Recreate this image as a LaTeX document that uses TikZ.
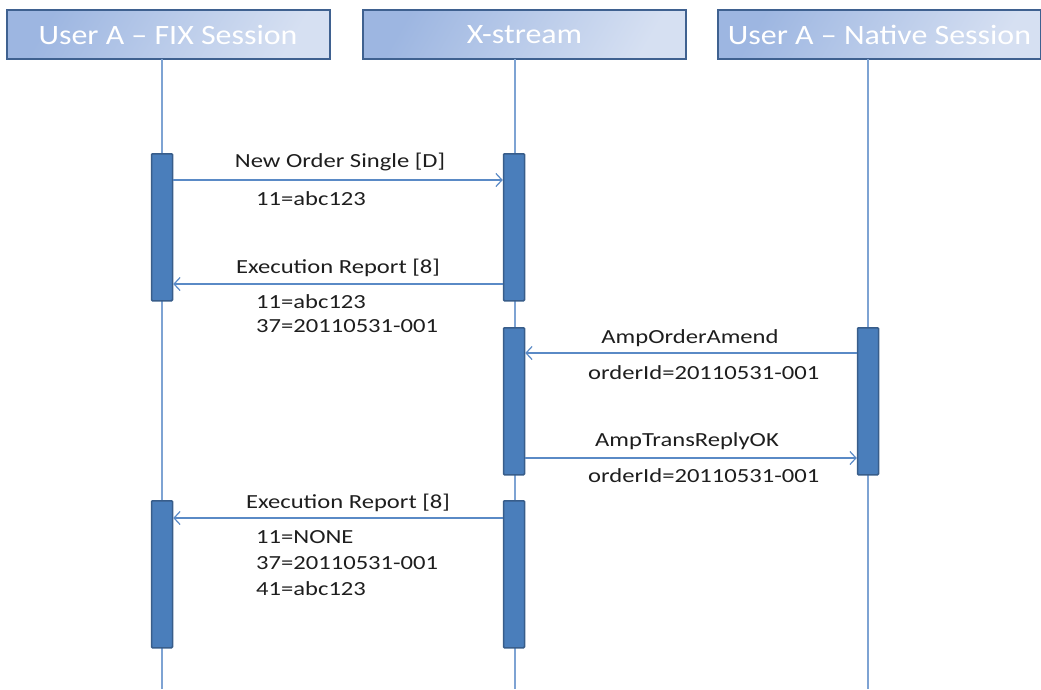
\documentclass[tikz,border=0pt]{standalone}
\usepackage{fontspec}
\setmainfont{Carlito}
\newfontfamily\bodyfont{Carlito}[FakeStretch=1.23]
\newfontfamily\headfont{Carlito}[FakeStretch=1.14]
\usetikzlibrary{arrows.meta}
\definecolor{hdrA}{HTML}{9DB6E1}
\definecolor{hdrB}{HTML}{D6E0F2}
\definecolor{hdrline}{HTML}{3F6190}
\definecolor{barfill}{HTML}{4A7EBB}
\definecolor{barline}{HTML}{385D8A}
\definecolor{lifecol}{HTML}{7EA3D3}
\definecolor{msgcol}{HTML}{5A8AC6}
\definecolor{txtcol}{HTML}{1E1E1E}
\tikzset{
  header/.style={draw=hdrline, line width=2pt, rectangle, minimum width=323pt, minimum height=49pt,
    left color=hdrA, right color=hdrB, shading angle=60, text=white,
    font=\headfont\fontsize{28}{30}\selectfont, inner sep=0pt},
  lifeline/.style={draw=lifecol, line width=1.3pt},
  actbar/.style={draw=barline, fill=barfill, line width=1.5pt, rounded corners=1pt, rectangle,
    minimum width=21pt, minimum height=147pt, inner sep=0pt, anchor=north},
  msg/.style={draw=msgcol, line width=1.3pt, -{Straight Barb[length=6pt,width=13pt,line width=1.2pt]}},
  lbl/.style={text=txtcol, font=\bodyfont\fontsize{20}{24}\selectfont, inner sep=0pt},
}
\begin{document}
\begin{tikzpicture}[x=1pt,y=-1pt]
\useasboundingbox (0,0) rectangle (1041,689);
\coordinate (bottom) at (0,689);
% headers
\node[header] (h1) at (168,34.5) {User A – FIX Session};
\node[header] (h2) at (524.5,34.5) {X-stream};
\node[header] (h3) at (879.5,34.5) {User A – Native Session};
% lifeline anchors
\coordinate (l1) at (162,59);
\coordinate (l2) at (515,59);
\coordinate (l3) at (868,59);
\draw[lifeline] (l1) -- (l1 |- bottom);
\draw[lifeline] (l2) -- (l2 |- bottom);
\draw[lifeline] (l3) -- (l3 |- bottom);
% activation bars
\node[actbar] (f1) at (162,153) {};
\node[actbar] (x1) at (514,153) {};
\node[actbar] (x2) at (514,327) {};
\node[actbar] (n1) at (868,327) {};
\node[actbar] (f2) at (162,500) {};
\node[actbar] (x3) at (514,500) {};
% message rows
\coordinate (m1) at (0,180);
\coordinate (m2) at (0,284);
\coordinate (m3) at (0,353);
\coordinate (m4) at (0,458);
\coordinate (m5) at (0,518);
\draw[msg] (f1.east |- m1) -- (x1.west |- m1);
\draw[msg] (x1.west |- m2) -- (f1.east |- m2);
\draw[msg] (n1.west |- m3) -- (x2.east |- m3);
\draw[msg] (x2.east |- m4) -- (n1.west |- m4);
\draw[msg] (x3.west |- m5) -- (f1.east |- m5);
% labels
\node[lbl] (t1) at (340,162) {New Order Single [D]};
\node[lbl, anchor=west] (t1a) at (256,199) {11=abc123};
\node[lbl] (t2) at (338,268) {Execution Report [8]};
\node[lbl, anchor=west] (t2a) at (256,302) {11=abc123};
\node[lbl, anchor=west] (t2b) at (256,326) {37=20110531-001};
\node[lbl] (t3) at (690,338) {AmpOrderAmend};
\node[lbl, anchor=west] (t3a) at (588,373) {orderId=20110531-001};
\node[lbl] (t4) at (687,441) {AmpTransReplyOK};
\node[lbl, anchor=west] (t4a) at (588,476) {orderId=20110531-001};
\node[lbl] (t5) at (348,503) {Execution Report [8]};
\node[lbl, anchor=west] (t5a) at (256,537) {11=NONE};
\node[lbl, anchor=west] (t5b) at (256,563) {37=20110531-001};
\node[lbl, anchor=west] (t5c) at (256,589) {41=abc123};
\end{tikzpicture}
\end{document}
